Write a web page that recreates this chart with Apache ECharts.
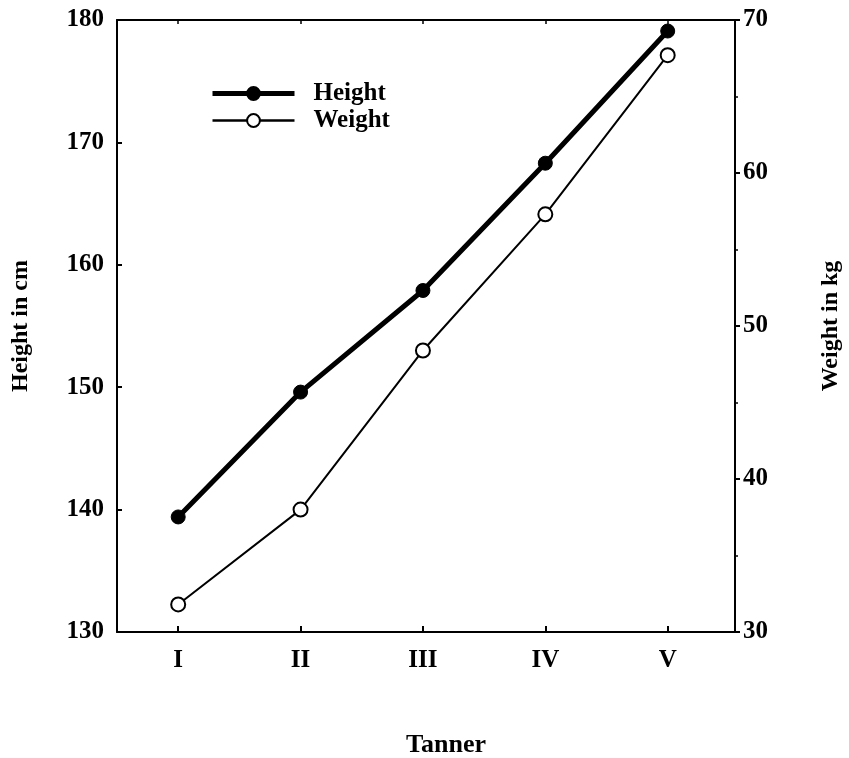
<!DOCTYPE html>
<html>
<head>
<meta charset="utf-8">
<script src="https://cdn.jsdelivr.net/npm/echarts@6/dist/echarts.min.js"></script>
<style>html,body{margin:0;padding:0;background:#fff;}#c{width:849px;height:758px;}</style>
</head>
<body>
<div id="c"></div>
<script>
var stages = [1, 2, 3, 4, 5];
var stageLabels = ['I', 'II', 'III', 'IV', 'V'];
var heightCm = [139.4, 149.6, 157.9, 168.3, 179.1];
var weightKg = [31.8, 38.0, 48.4, 57.3, 67.7];

var FONT = '"Liberation Serif", "DejaVu Serif", serif';
var chart = echarts.init(document.getElementById('c'));
function pairs(xs, ys) { return xs.map(function (x, i) { return [x, ys[i]]; }); }

chart.setOption({
  backgroundColor: '#fff',
  animation: false,
  grid: { left: 117, right: 114, top: 20, bottom: 126, containLabel: false, outerBoundsMode: 'none' },
  legend: {
    orient: 'vertical', left: 205, top: 76,
    itemWidth: 82, itemHeight: 16, itemGap: 2,
    textStyle: { fontFamily: FONT, fontWeight: 'bold', fontSize: 25, color: '#000', padding: [0, 0, 0, 14], lineHeight: 25 },
    data: [
      { name: 'Height', lineStyle: { width: 5 } },
      { name: 'Weight', lineStyle: { width: 2.5 } }
    ]
  },
  xAxis: [{
    type: 'value', min: 0.5, max: 5.55,
    name: 'Tanner', nameLocation: 'middle', nameGap: 100,
    nameTextStyle: { fontFamily: FONT, fontWeight: 'bold', fontSize: 26, color: '#000', padding: [0, 0, 0, 40] },
    axisLine: { show: true, lineStyle: { color: '#000', width: 2 } },
    axisTick: { show: true, inside: true, length: 6, customValues: stages, lineStyle: { color: '#000', width: 2 } },
    axisLabel: { customValues: stages, margin: 16, fontFamily: FONT, fontWeight: 'bold', fontSize: 25, color: '#000',
      formatter: function (v) { return stageLabels[stages.indexOf(v)] || ''; } },
    splitLine: { show: false }
  }, {
    type: 'value', position: 'top', min: 0.5, max: 5.55,
    axisLine: { show: true, onZero: false, lineStyle: { color: '#000', width: 2 } },
    axisTick: { show: true, inside: true, length: 4, customValues: stages, lineStyle: { color: '#000', width: 1.5 } },
    axisLabel: { show: false },
    splitLine: { show: false }
  }],
  yAxis: [{
    type: 'value', min: 130, max: 180, interval: 10, position: 'left',
    name: 'Height in cm', nameLocation: 'middle', nameGap: 84, nameRotate: 90,
    nameTextStyle: { fontFamily: FONT, fontWeight: 'bold', fontSize: 24, color: '#000' },
    axisLine: { show: true, lineStyle: { color: '#000', width: 2 } },
    axisTick: { show: true, inside: true, length: 5, lineStyle: { color: '#000', width: 2 } },
    axisLabel: { margin: 13, fontFamily: FONT, fontWeight: 'bold', fontSize: 25, color: '#000' },
    splitLine: { show: false }
  }, {
    type: 'value', min: 30, max: 70, interval: 10, position: 'right',
    name: 'Weight in kg', nameLocation: 'middle', nameGap: 84, nameRotate: 90,
    nameTextStyle: { fontFamily: FONT, fontWeight: 'bold', fontSize: 24, color: '#000' },
    axisLine: { show: true, lineStyle: { color: '#000', width: 2 } },
    axisTick: { show: true, inside: false, length: 5, lineStyle: { color: '#000', width: 2 } },
    minorTick: { show: true, splitNumber: 2, length: 3, lineStyle: { color: '#000', width: 1.5 } },
    axisLabel: { margin: 8, fontFamily: FONT, fontWeight: 'bold', fontSize: 25, color: '#000' },
    splitLine: { show: false }
  }],
  series: [{
    name: 'Height', type: 'line', xAxisIndex: 0, yAxisIndex: 0,
    data: pairs(stages, heightCm),
    symbol: 'circle', symbolSize: 14,
    lineStyle: { color: '#000', width: 5 },
    itemStyle: { color: '#000', borderColor: '#000', borderWidth: 1 }
  }, {
    name: 'Weight', type: 'line', xAxisIndex: 0, yAxisIndex: 1,
    data: pairs(stages, weightKg),
    symbol: 'circle', symbolSize: 14,
    lineStyle: { color: '#000', width: 2 },
    itemStyle: { color: '#fff', borderColor: '#000', borderWidth: 2 }
  }]
});
</script>
</body>
</html>
